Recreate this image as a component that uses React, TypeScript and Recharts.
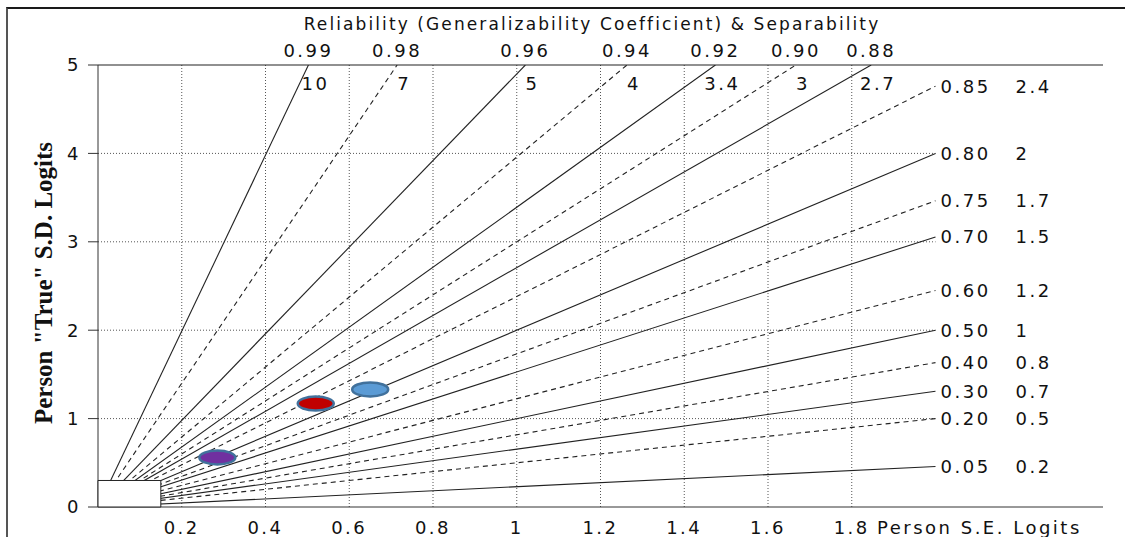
import React from 'react';
import {
  ComposedChart, Line, Scatter, XAxis, YAxis, ReferenceLine, ReferenceArea,
} from 'recharts';

// reliability levels drawn as rays, with their separability labels
const RELIABILITY = [0.99, 0.98, 0.96, 0.94, 0.92, 0.9, 0.88, 0.85, 0.8, 0.75, 0.7, 0.6, 0.5, 0.4, 0.3, 0.2, 0.05];
const RELIABILITY_LABELS = ['0.99', '0.98', '0.96', '0.94', '0.92', '0.90', '0.88', '0.85', '0.80', '0.75', '0.70', '0.60', '0.50', '0.40', '0.30', '0.20', '0.05'];
const SEPARABILITY_LABELS = ['10', '7', '5', '4', '3.4', '3', '2.7', '2.4', '2', '1.7', '1.5', '1.2', '1', '0.8', '0.7', '0.5', '0.2'];

const X_TICKS = [0.2, 0.4, 0.6, 0.8, 1, 1.2, 1.4, 1.6, 1.8];
const Y_TICKS = [0, 1, 2, 3, 4, 5];
const H_GRID = [1, 2, 3, 4];

// the three person markers
const PERSON_SE = [0.285, 0.52, 0.65];
const PERSON_SD = [0.56, 1.17, 1.33];
const PERSON_COLORS = ['#7030A0', '#C00000', '#5B9BD5'];

const X_MAX = 2.4;
const LINE_X_END = 2;
const Y_MAX = 5;

const FONT = '"DejaVu Sans", Verdana, sans-serif';
const textStyle = { fontFamily: FONT, fontSize: 18, letterSpacing: 2.5, fill: '#111' };

if (typeof document !== 'undefined') document.body.style.margin = '0';

const rays = RELIABILITY.map((r, i) => {
  const g = Math.sqrt(r / (1 - r));
  const xEnd = Math.min(LINE_X_END, Y_MAX / g);
  return {
    key: RELIABILITY_LABELS[i],
    dashed: i % 2 === 1,
    hitsTop: g * LINE_X_END > Y_MAX,
    rel: RELIABILITY_LABELS[i],
    sep: SEPARABILITY_LABELS[i],
    data: [{ x: 0, y: 0 }, { x: xEnd, y: g * xEnd }],
  };
});

const persons = PERSON_SE.map((x, i) => ({ x, y: PERSON_SD[i], color: PERSON_COLORS[i] }));

const endLabel = (ray: any) => (props: any) => {
  if (props.index !== 1) return <g />;
  const { x, y } = props;
  if (ray.hitsTop) {
    return (
      <g>
        <text x={x} y={y - 8} textAnchor="middle" style={textStyle}>{ray.rel}</text>
        <text x={x + 7} y={y + 25} textAnchor="middle" style={textStyle}>{ray.sep}</text>
      </g>
    );
  }
  return (
    <g>
      <text x={x + 5} y={y} dy="0.36em" style={textStyle}>{ray.rel}</text>
      <text x={x + 80} y={y} dy="0.36em" style={textStyle}>{ray.sep}</text>
    </g>
  );
};

const Ellipse = (props: any) => {
  const { cx, cy, payload } = props;
  return <ellipse cx={cx} cy={cy} rx={18} ry={7} fill={payload.color} stroke="#41719C" strokeWidth={2.5} />;
};

export default function App() {
  return (
    <div style={{ position: 'relative', width: 1125, height: 537, background: '#fff', overflow: 'hidden' }}>
      <div style={{
        position: 'absolute', left: 6, top: 7, width: 1125, height: 537,
        borderTop: '2px solid #1a1a1a', borderLeft: '2px solid #555',
      }} />
      <div style={{
        position: 'absolute', left: 592, top: 14, transform: 'translateX(-50%)', whiteSpace: 'nowrap',
        fontFamily: FONT, fontSize: 17, letterSpacing: 2.1, color: '#111',
      }}>
        Reliability (Generalizability Coefficient) &amp; Separability
      </div>
      <div style={{ position: 'absolute', left: 0, top: 0 }}>
        <ComposedChart width={1125} height={537} margin={{ top: 65, right: 22, bottom: 0, left: 0 }}>
          <XAxis
            type="number" dataKey="x" domain={[0, X_MAX]} ticks={X_TICKS} allowDataOverflow
            height={30} tickLine={false} tickSize={0} tickMargin={14}
            axisLine={{ stroke: '#333' }} tick={{ ...textStyle }}
            label={{
              content: () => (
                <text x={877} y={534} style={textStyle}>Person S.E. Logits</text>
              ),
            }}
          />
          <YAxis
            type="number" domain={[0, Y_MAX]} ticks={Y_TICKS} allowDataOverflow
            width={98} tickSize={10} tickMargin={7}
            axisLine={{ stroke: '#333' }} tickLine={{ stroke: '#333' }} tick={{ ...textStyle }}
            label={{
              content: () => (
                <text
                  x={43} y={283} textAnchor="middle" dominantBaseline="central"
                  transform="rotate(-90, 43, 283)"
                  style={{ fontFamily: '"Liberation Serif", "Times New Roman", serif', fontWeight: 'bold', fontSize: 25, fill: '#111' }}
                >
                  Person "True" S.D. Logits
                </text>
              ),
            }}
          />
          {X_TICKS.map((v) => (
            <ReferenceLine key={`v${v}`} x={v} stroke="#555" strokeDasharray="1 2" />
          ))}
          {H_GRID.map((v) => (
            <ReferenceLine
              key={`h${v}`}
              segment={[{ x: 0, y: v }, { x: LINE_X_END, y: v }]}
              stroke="#555" strokeDasharray="1 2"
            />
          ))}
          <ReferenceLine y={Y_MAX} stroke="#222" strokeWidth={1.2} />
          {rays.map((ray) => (
            <Line
              key={ray.key}
              data={ray.data}
              dataKey="y"
              type="linear"
              stroke="#222"
              strokeWidth={1.1}
              strokeDasharray={ray.dashed ? '5 4' : undefined}
              dot={false}
              activeDot={false}
              isAnimationActive={false}
              label={endLabel(ray)}
            />
          ))}
          <ReferenceArea
            x1={0} x2={0.15} y1={0} y2={0.3}
            fill="#fff" fillOpacity={1} stroke="#222" strokeWidth={1}
            zIndex={700}
          />
          <Scatter data={persons} dataKey="y" shape={<Ellipse />} isAnimationActive={false} zIndex={800} />
        </ComposedChart>
      </div>
    </div>
  );
}
